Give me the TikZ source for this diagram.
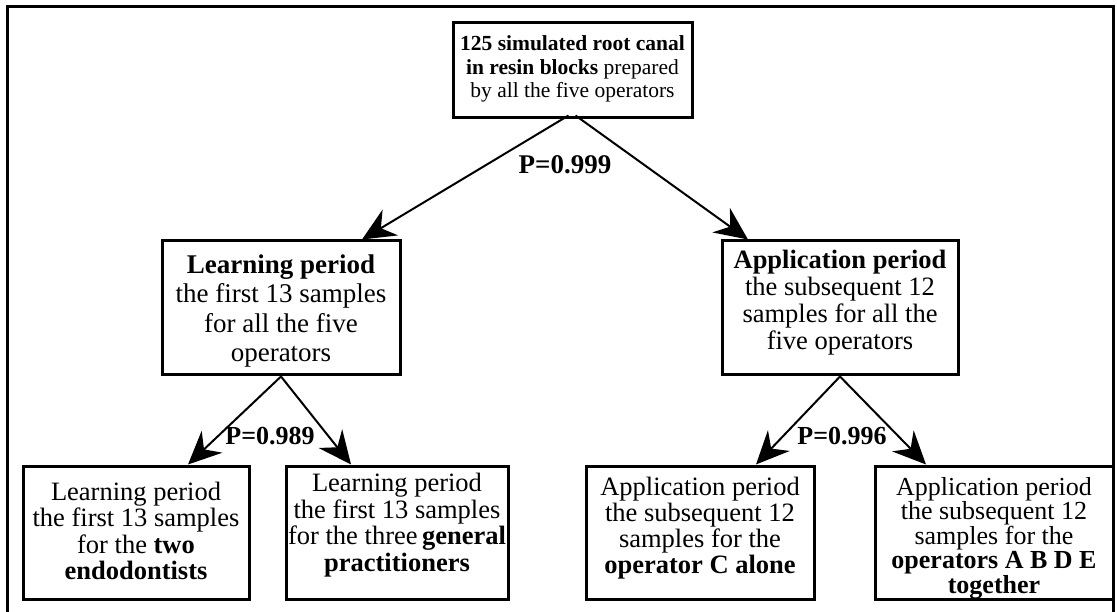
\documentclass[tikz,border=0pt]{standalone}
\usepackage{fontspec}
\setmainfont{Liberation Serif}
\usetikzlibrary{arrows.meta}
\tikzset{
  frameline/.style={line width=3pt},
  boxnode/.style={draw, line width=3pt, inner sep=0pt},
  txt/.style={align=center, inner sep=0pt},
  arr/.style={line width=2pt, -{Stealth[length=33pt, width=30pt, inset=11pt]}},
  plab/.style={inner sep=0pt, font=\bfseries\fontsize{27}{29}\selectfont}
}
\begin{document}
\begin{tikzpicture}[x=1pt, y=-1pt]
\useasboundingbox (0,0) rectangle (1117,612);
\draw[frameline] (7,620) -- (7,7) -- (1113,7) -- (1113,620);
% boxes
\node[boxnode, minimum width=239pt, minimum height=95pt] (top) at (572.5,70.5) {};
\node[boxnode, minimum width=238pt, minimum height=134pt] (learn) at (281,308) {};
\node[boxnode, minimum width=236pt, minimum height=134pt] (app) at (840,308) {};
\node[boxnode, minimum width=226pt, minimum height=133pt] (lb1) at (136,532.5) {};
\node[boxnode, minimum width=222pt, minimum height=133pt] (lb2) at (397,532.5) {};
\node[boxnode, minimum width=228pt, minimum height=133pt] (rb1) at (700,532.5) {};
\node[boxnode, minimum width=238pt, minimum height=133pt] (rb2) at (994,532.5) {};
% texts
\node[txt, font=\fontsize{21.5}{23.5}\selectfont] (topT) at (572.5,69)
  {\textbf{125 simulated root canal}\\\textbf{in resin blocks} prepared\\by all the five operators};
\node[txt, font=\fontsize{27}{29.5}\selectfont] (learnT) at (281,311)
  {\textbf{Learning period}\\the first 13 samples\\for all the five\\operators};
\node[txt, font=\fontsize{26.5}{27}\selectfont] (appT) at (840,303)
  {\textbf{Application period}\\the subsequent 12\\samples for all the\\five operators};
\node[txt, font=\fontsize{26.5}{26.5}\selectfont] (lb1T) at (136,531)
  {Learning period\\the first 13 samples\\for the \textbf{two}\\\textbf{endodontists}};
\node[txt, font=\fontsize{26.5}{26.5}\selectfont] (lb2T) at (397,525)
  {Learning period\\the first 13 samples\\for the three\,\textbf{general}\\\textbf{practitioners}};
\node[txt, font=\fontsize{26.5}{26}\selectfont] (rb1T) at (700,528)
  {Application period\\the subsequent 12\\samples for the\\\textbf{operator C alone}};
\node[txt, font=\fontsize{26}{24.5}\selectfont] (rb2T) at (994,538)
  {Application period\\the subsequent 12\\samples for the\\\textbf{operators A B D E}\\\textbf{together}};
% connectors
\draw[arr] ([xshift=-4pt, yshift=4pt]top.south) -- ([xshift=81pt]learn.north);
\draw[arr] ([xshift=3pt, yshift=4pt]top.south) -- ([xshift=-92pt]app.north);
\draw[arr] (learn.south) -- ([xshift=52pt]lb1.north);
\draw[arr] (learn.south) -- ([xshift=-46pt]lb2.north);
\draw[arr] (app.south) -- ([xshift=56pt]rb1.north);
\draw[arr] (app.south) -- ([xshift=-68pt]rb2.north);
% labels
\node[plab] (p1) at (565,165) {P=0.999};
\node[plab, font=\bfseries\fontsize{26}{28}\selectfont] (p2) at (270,436) {P=0.989};
\node[plab, font=\bfseries\fontsize{26}{28}\selectfont] (p3) at (842,436) {P=0.996};
\end{tikzpicture}
\end{document}
